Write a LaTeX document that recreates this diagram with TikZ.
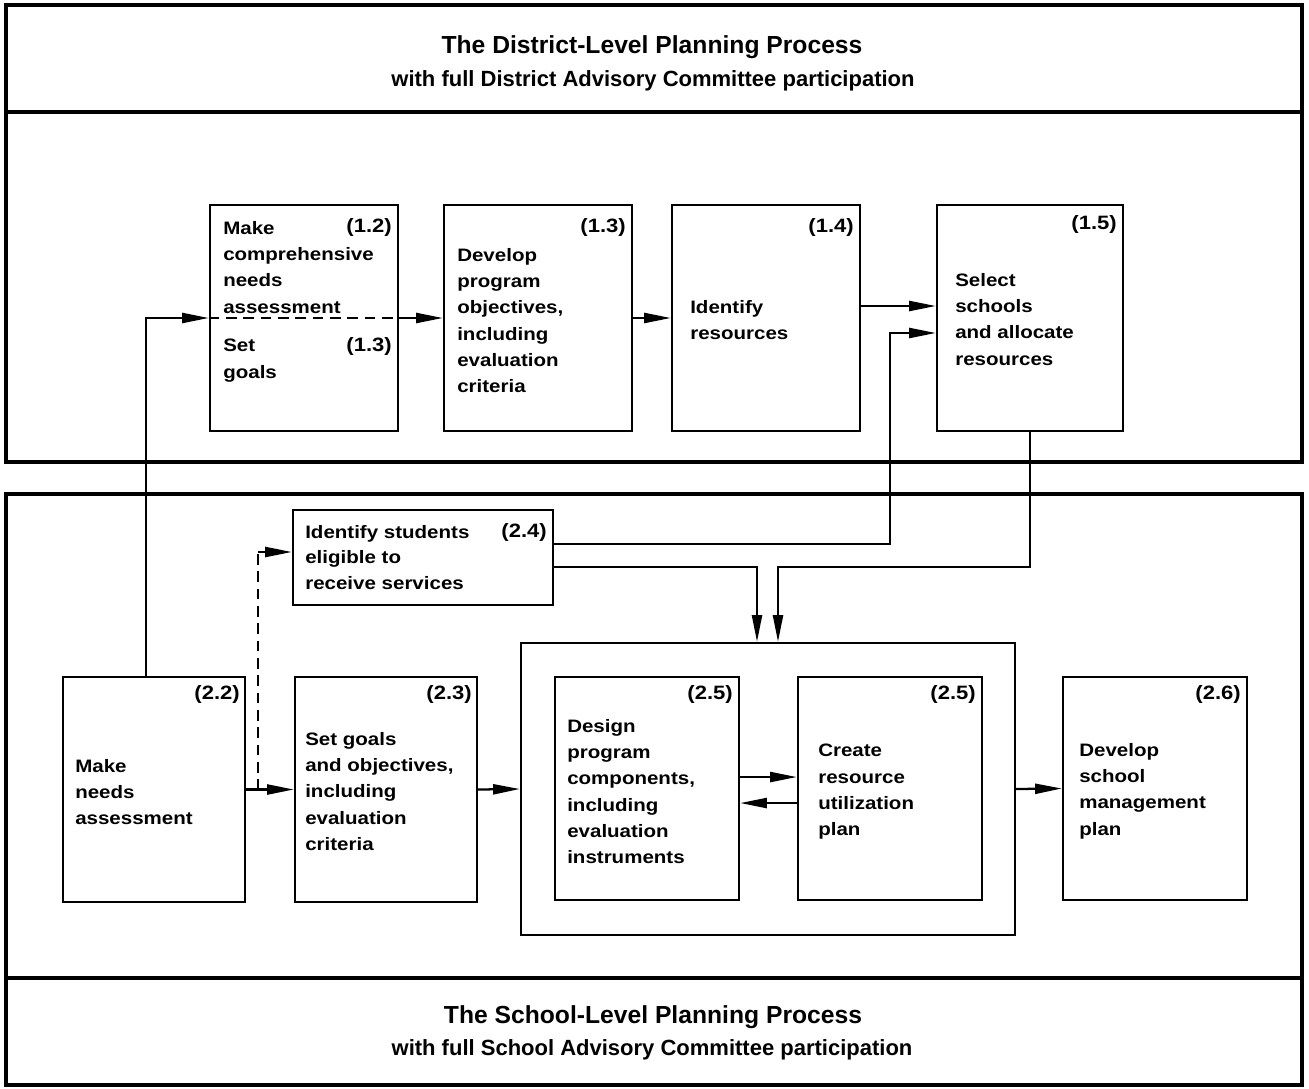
\documentclass[tikz,border=0pt]{standalone}
\usepackage{fontspec}
\setmainfont{Liberation Sans}
\newfontfamily\bxfont[FakeStretch=1.14]{Liberation Sans}
\usetikzlibrary{arrows.meta,fit}
\begin{document}
\begin{tikzpicture}[x=0.75pt,y=-0.75pt,
  frame/.style={line width=2.4pt},
  box/.style={draw,line width=1.8pt,inner sep=0pt},
  txt/.style={font=\bxfont\fontsize{13.5}{19.7}\selectfont\bfseries,align=left,inner sep=0pt,anchor=north west},
  num/.style={font=\bxfont\fontsize{14.5}{19.7}\selectfont\bfseries,inner sep=0pt,anchor=base east},
  ttl/.style={font=\fontsize{18.5}{22}\selectfont\bfseries,inner sep=0pt,anchor=base},
  sub/.style={font=\fontsize{16.5}{19}\selectfont\bfseries,inner sep=0pt,anchor=base},
  arr/.style={line width=1.7pt,-{Triangle[length=20pt,width=7.5pt]}},
  dsh/.style={line width=1.5pt,dash pattern=on 8pt off 5pt}]
\useasboundingbox (0,0) rectangle (1309,1088);
% panels
\draw[frame] (6,5) rectangle (1302,462);
\draw[frame] (6,112) -- (1302,112);
\draw[frame] (6,494) rectangle (1302,1085);
\draw[frame] (6,978) -- (1302,978);
\node[ttl] (t1) at (652,54) {The District-Level Planning Process};
\node[sub] (s1) at (653,86) {with full District Advisory Committee participation};
\node[ttl] (t2) at (653,1023) {The School-Level Planning Process};
\node[sub] (s2) at (652,1055) {with full School Advisory Committee participation};
% district boxes
\node[box,fit={(210,205)(398,431)}] (b12) {};
\node[box,fit={(444,205)(632,431)}] (b13) {};
\node[box,fit={(672,205)(860,431)}] (b14) {};
\node[box,fit={(937,205)(1123,431)}] (b15) {};
% school boxes
\node[box,fit={(293,510)(553,605)}] (b24) {};
\node[box,fit={(63,677)(245,902)}] (b22) {};
\node[box,fit={(295,677)(477,902)}] (b23) {};
\node[box,fit={(521,643)(1015,935)}] (b25) {};
\node[box,fit={(555,677)(739,900)}] (b25a) {};
\node[box,fit={(798,677)(982,900)}] (b25b) {};
\node[box,fit={(1063,677)(1247,900)}] (b26) {};
% texts (anchor at top of first line)
\node[txt] (x12) at (223,221) {Make\\comprehensive\\needs\\assessment};
\node[num] (n12) at (392,232) {(1.2)};
\node[txt] (x12b) at (223,339) {Set\\goals};
\node[num] (n12b) at (392,351) {(1.3)};
\node[txt] (x13) at (457,248) {Develop\\program\\objectives,\\including\\evaluation\\criteria};
\node[num] (n13) at (626,232) {(1.3)};
\node[txt] (x14) at (690,300) {Identify\\resources};
\node[num] (n14) at (854,232) {(1.4)};
\node[txt] (x15) at (955,273) {Select\\schools\\and allocate\\resources};
\node[num] (n15) at (1117,229) {(1.5)};
\node[txt,font=\bxfont\fontsize{13.5}{19.2}\selectfont\bfseries] (x24) at (305,525) {Identify students\\eligible to\\receive services};
\node[num] (n24) at (547,537) {(2.4)};
\node[txt] (x22) at (75,759) {Make\\needs\\assessment};
\node[num] (n22) at (240,699) {(2.2)};
\node[txt] (x23) at (305,732) {Set goals\\and objectives,\\including\\evaluation\\criteria};
\node[num] (n23) at (472,699) {(2.3)};
\node[txt] (x25a) at (567,719) {Design\\program\\components,\\including\\evaluation\\instruments};
\node[num] (n25a) at (733,699) {(2.5)};
\node[txt] (x25b) at (818,744) {Create\\resource\\utilization\\plan};
\node[num] (n25b) at (976,699) {(2.5)};
\node[txt] (x26) at (1079,743) {Develop\\school\\management\\plan};
\node[num] (n26) at (1241,699) {(2.6)};
% junction coordinates
\coordinate (j1s) at (890,544);
\coordinate (j1) at (890,333);
\coordinate (j2) at (778,567);
\coordinate (j3) at (757,567);
\coordinate (d0) at (258,790);
\coordinate (d1) at (258,552);
% connectors
\draw[dsh] (b12.west) -- (b12.east);
\draw[arr] ([xshift=-6pt]b22.north) |- (b12.west);
\draw[arr] (b12.east) -- (b13.west);
\draw[arr] (b13.east) -- (b14.west);
\draw[arr] ([yshift=9pt]b14.east) -- ([yshift=9pt]b15.west);
\draw[arr] (b24.east |- j1s) -- (j1s) -- (j1) -- (j1 -| b15.west);
\draw[arr] (b24.east |- j3) -- (j3) -- (j3 |- b25.north);
\draw[arr] (b15.south) |- (j2) -- (j2 |- b25.north);
\draw[arr] (b22.east) -- (b23.west);
\draw[dsh] (d0) -- (d1);
\draw[arr] (d1) -- (d1 -| b24.west);
\draw[arr] (b23.east) -- (b25.west);
\draw[arr] ([yshift=8.6pt]b25a.east) -- ([yshift=8.6pt]b25b.west);
\draw[arr] ([yshift=-10.9pt]b25b.west) -- ([yshift=-10.9pt]b25a.east);
\draw[arr] (b25.east) -- (b26.west);
\end{tikzpicture}
\end{document}
